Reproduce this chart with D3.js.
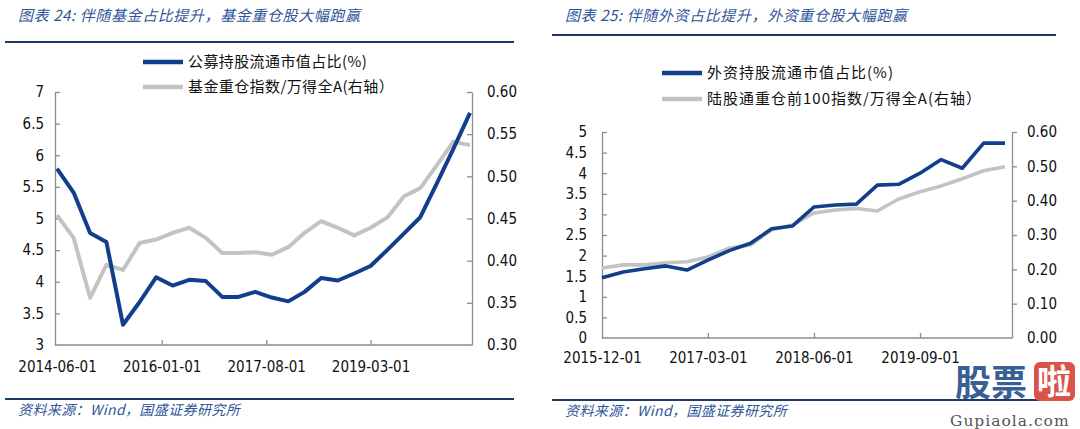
<!DOCTYPE html>
<html><head><meta charset="utf-8">
<script src="https://cdn.jsdelivr.net/npm/d3@7"></script>
<style>
body{margin:0;background:#fff}
svg{display:block}
.tick text{font-family:"DejaVu Sans Condensed","DejaVu Sans",sans-serif;font-size:15px;fill:#111}
</style></head>
<body><svg id="c" width="1080" height="429"></svg>
<script>
// ---------- DATA ----------
const leftTitle = "图表 24:  伴随基金占比提升，基金重仓股大幅跑赢";
const leftSeriesNames = ["公募持股流通市值占比(%)", "基金重仓指数/万得全A(右轴）"];
const leftDates = ["2014-06-01","2014-09-01","2014-12-01","2015-03-01","2015-06-01","2015-09-01","2015-12-01","2016-03-01","2016-06-01","2016-09-01","2016-12-01","2017-03-01","2017-06-01","2017-09-01","2017-12-01","2018-03-01","2018-06-01","2018-09-01","2018-12-01","2019-03-01","2019-06-01","2019-09-01","2019-12-01","2020-03-01","2020-06-01","2020-09-01"];
const leftFundShare = [5.79,5.41,4.77,4.63,3.32,3.68,4.07,3.94,4.03,4.01,3.76,3.76,3.84,3.75,3.69,3.84,4.06,4.02,4.13,4.25,4.50,4.76,5.02,5.55,6.10,6.67];
const leftFundIndex = [0.454,0.427,0.356,0.395,0.389,0.421,0.425,0.433,0.439,0.427,0.409,0.409,0.410,0.407,0.416,0.433,0.447,0.439,0.430,0.439,0.451,0.476,0.486,0.513,0.541,0.537];
const leftXTicks = ["2014-06-01","2016-01-01","2017-08-01","2019-03-01"];
const leftYTicks = [3,3.5,4,4.5,5,5.5,6,6.5,7];
const leftY2Ticks = [0.30,0.35,0.40,0.45,0.50,0.55,0.60];

const rightTitle = "图表 25:  伴随外资占比提升，外资重仓股大幅跑赢";
const rightSeriesNames = ["外资持股流通市值占比(%)", "陆股通重仓前100指数/万得全A(右轴）"];
const rightDates = ["2015-12-01","2016-03-01","2016-06-01","2016-09-01","2016-12-01","2017-03-01","2017-06-01","2017-09-01","2017-12-01","2018-03-01","2018-06-01","2018-09-01","2018-12-01","2019-03-01","2019-06-01","2019-09-01","2019-12-01","2020-03-01","2020-06-01","2020-09-01"];
const rightForeignShare = [1.46,1.60,1.68,1.75,1.65,1.89,2.12,2.30,2.65,2.72,3.18,3.23,3.25,3.71,3.73,4.00,4.33,4.12,4.73,4.73];
const rightNorthIndex = [0.204,0.213,0.213,0.219,0.222,0.236,0.262,0.271,0.315,0.329,0.364,0.373,0.377,0.370,0.405,0.426,0.443,0.464,0.487,0.499];
const rightXTicks = ["2015-12-01","2017-03-01","2018-06-01","2019-09-01"];
const rightYTicks = [0,0.5,1,1.5,2,2.5,3,3.5,4,4.5,5];
const rightY2Ticks = [0,0.1,0.2,0.3,0.4,0.5,0.6];

const sourceText = "资料来源：Wind，国盛证券研究所";

// ---------- STYLE ----------
const BLUE = "#123f8c", GREY = "#c3c3c3", AXIS = "#8c8c8c", NAVY = "#1f3a68", TITLE = "#2f5598";
const parse = d3.timeParse("%Y-%m-%d");
const svg = d3.select("#c");

function draw(o){
  const g = svg.append("g");
  // title
  g.append("text").attr("x", o.titleX).attr("y", o.titleY)
    .attr("font-family", "'Noto Sans CJK SC'").attr("font-style","italic")
    .attr("font-size", 15).attr("letter-spacing", 0.6).attr("fill", TITLE).text(o.title);
  g.append("line").attr("x1", o.ruleX1).attr("x2", o.ruleX2).attr("y1", o.titleRuleY).attr("y2", o.titleRuleY)
    .attr("stroke", NAVY).attr("stroke-width", 2.2);
  g.append("line").attr("x1", o.ruleX1).attr("x2", o.ruleX2).attr("y1", o.footRuleY).attr("y2", o.footRuleY)
    .attr("stroke", NAVY).attr("stroke-width", 2.2);
  g.append("text").attr("x", o.titleX).attr("y", o.footRuleY + 16)
    .attr("font-family", "'Noto Sans CJK SC'").attr("font-style","italic")
    .attr("font-size", 14).attr("letter-spacing", 0.4).attr("fill", TITLE).text(o.source);

  const x = d3.scaleTime().domain([parse(o.dates[0]), parse(o.dates[o.dates.length-1])]).range(o.xRange);
  const y = d3.scaleLinear().domain(o.yDomain).range([o.bottom, o.top]);
  const y2 = d3.scaleLinear().domain(o.y2Domain).range([o.bottom, o.top]);

  // axes
  const xa = g.append("g").attr("transform", `translate(0,${o.bottom})`)
    .call(d3.axisBottom(x).tickValues(o.xTicks.map(parse)).tickFormat(d3.timeFormat("%Y-%m-%d"))
      .tickSizeInner(-5).tickSizeOuter(0).tickPadding(o.xPad));
  xa.select(".domain").attr("d", `M${o.axisL},0H${o.axisR}`);
  const ya = g.append("g").attr("transform", `translate(${o.axisL},0)`)
    .call(d3.axisLeft(y).tickValues(o.yTicks).tickFormat(d3.format("")).tickSizeInner(-5).tickSizeOuter(0).tickPadding(o.yPad));
  const y2a = g.append("g").attr("transform", `translate(${o.axisR},0)`)
    .call(d3.axisRight(y2).tickValues(o.y2Ticks).tickFormat(d3.format(".2f")).tickSizeInner(o.y2Tick).tickSizeOuter(0).tickPadding(o.y2Pad));
  [xa, ya, y2a].forEach(a => {
    a.selectAll(".domain").attr("stroke", AXIS).attr("stroke-width", 1.3);
    a.selectAll(".tick line").attr("stroke", AXIS).attr("stroke-width", 1.3);
  });
  xa.selectAll(".tick").filter((d,i)=>i===0).select("line").remove();
  ya.selectAll(".tick").filter(d=>d===o.yDomain[0]).select("line").remove();
  y2a.selectAll(".tick").filter(d=>d===o.y2Domain[0]).select("line").remove();

  // lines
  const d1 = o.dates.map((d,i)=>({t:parse(d), v:o.s1[i]}));
  const d2 = o.dates.map((d,i)=>({t:parse(d), v:o.s2[i]}));
  g.append("path").datum(d2).attr("fill","none").attr("stroke",GREY).attr("stroke-width",o.lw)
    .attr("stroke-linejoin","round")
    .attr("d", d3.line().x(d=>x(d.t)).y(d=>y2(d.v)));
  g.append("path").datum(d1).attr("fill","none").attr("stroke",BLUE).attr("stroke-width",o.lw)
    .attr("stroke-linejoin","round")
    .attr("d", d3.line().x(d=>x(d.t)).y(d=>y(d.v)));

  // legend
  [[BLUE, o.names[0]], [GREY, o.names[1]]].forEach((it, i) => {
    const ly = o.legY + i*o.legGap;
    g.append("line").attr("x1", o.legX).attr("x2", o.legX+40).attr("y1", ly).attr("y2", ly)
      .attr("stroke", it[0]).attr("stroke-width", 4.5);
    g.append("text").attr("x", o.legX+45).attr("y", ly).attr("dy","0.35em")
      .attr("font-family","'Noto Sans CJK SC'").attr("font-size",15).attr("letter-spacing", o.legLs)
      .attr("fill","#111").text(it[1]);
  });
}

draw({title:leftTitle, titleX:18, titleY:21, ruleX1:5, ruleX2:514, titleRuleY:42, footRuleY:399, source:sourceText,
  dates:leftDates, s1:leftFundShare, s2:leftFundIndex, names:leftSeriesNames,
  xRange:[57,470], axisL:55, axisR:472, top:92, bottom:345,
  yDomain:[3,7], y2Domain:[0.30,0.60], xTicks:leftXTicks, yTicks:leftYTicks, y2Ticks:leftY2Ticks,
  xPad:16, yPad:11, y2Tick:-5, y2Pad:15, lw:4, legX:143, legY:62, legGap:25, legLs:0.4});

draw({title:rightTitle, titleX:565, titleY:21, ruleX1:552, ruleX2:1056, titleRuleY:35, footRuleY:400, source:sourceText,
  dates:rightDates, s1:rightForeignShare, s2:rightNorthIndex, names:rightSeriesNames,
  xRange:[602,1005], axisL:602, axisR:1012, top:132, bottom:338,
  yDomain:[0,5], y2Domain:[0,0.6], xTicks:rightXTicks, yTicks:rightYTicks, y2Ticks:rightY2Ticks,
  xPad:14, yPad:15, y2Tick:5, y2Pad:10, lw:3.6, legX:662, legY:73, legGap:26, legLs:1});

// watermark
const wm = svg.append("g");
wm.append("text").attr("x",955).attr("y",396).attr("font-family","'Noto Sans CJK SC'").attr("font-weight","bold")
  .attr("font-size",36).attr("fill","#3a5f95").text("股票");
wm.append("rect").attr("x",1034).attr("y",362).attr("width",41).attr("height",39).attr("rx",6).attr("fill","#d9534a");
wm.append("text").attr("x",1037).attr("y",394).attr("font-family","'Noto Sans CJK SC'").attr("font-weight","bold")
  .attr("font-size",34).attr("fill","#fff").text("啦");
wm.append("text").attr("x",950).attr("y",426).attr("font-family","'DejaVu Serif',serif")
  .attr("font-size",15.5).attr("letter-spacing",1).attr("fill","#555").text("Gupiaola.com");
</script></body></html>
